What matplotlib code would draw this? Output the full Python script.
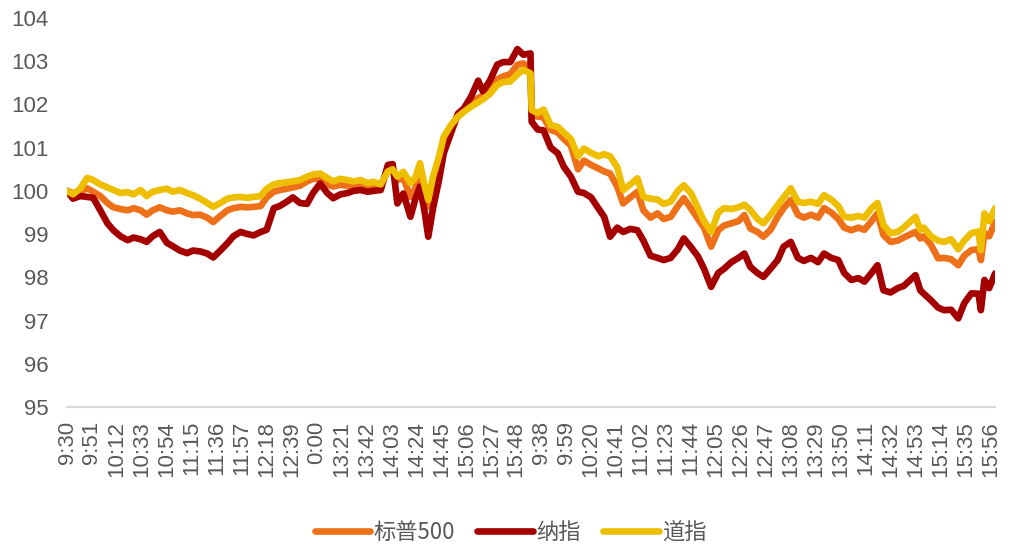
import numpy as np
import matplotlib
matplotlib.use("Agg")
from matplotlib import pyplot as plt

plt.rcParams['font.family'] = ['Noto Sans CJK SC', 'DejaVu Sans']

# minute index along the two trading days (day 1: 0-390, day 2: 391-781)
minute_idx = [
    0, 5, 11, 17, 22, 28, 34, 39, 45, 51, 56, 62, 67, 72, 78, 84, 89, 95, 101, 106,
    112, 118, 123, 129, 135, 140, 146, 152, 157, 163, 168, 174, 179, 185, 190, 196,
    202, 207, 213, 219, 224, 230, 236, 241, 247, 253, 258, 264, 270, 274, 278, 283,
    289, 293, 297, 301, 304, 308, 313, 317, 323, 329, 334, 340, 346, 350, 356, 362,
    367, 373, 379, 384, 390,
    391, 396, 401, 407, 413, 418, 424, 430, 435, 441, 447, 452, 457, 463, 468, 474,
    480, 485, 491, 497, 502, 508, 514, 519, 525, 531, 536, 542, 548, 553, 559, 565,
    570, 575, 581, 586, 592, 598, 603, 609, 615, 620, 626, 632, 637, 643, 649, 654,
    660, 666, 671, 677, 682, 687, 693, 699, 704, 710, 714, 718, 721, 727, 733, 738,
    744, 750, 755, 761, 767, 769, 772, 776, 781,
]

sp500 = [
    100.00, 99.95, 99.98, 100.06, 99.98, 99.88, 99.72, 99.62, 99.58, 99.55, 99.60, 99.55,
    99.45, 99.55, 99.62, 99.55, 99.52, 99.55, 99.48, 99.44, 99.45, 99.38, 99.28, 99.42,
    99.55, 99.60, 99.63, 99.62, 99.63, 99.65, 99.85, 99.98, 100.02, 100.05, 100.08, 100.12,
    100.22, 100.28, 100.28, 100.15, 100.10, 100.14, 100.12, 100.14, 100.12, 100.10, 100.12,
    100.10, 100.50, 100.55, 100.25, 100.30, 99.86, 100.05, 100.40, 99.90, 99.63, 100.20,
    100.70, 101.20, 101.50, 101.72, 101.85, 102.00, 102.15, 102.20, 102.35, 102.58, 102.65,
    102.70, 102.92, 102.95, 102.85,
    101.75, 101.72, 101.70, 101.41, 101.35, 101.20, 101.05, 100.50, 100.70, 100.60, 100.52,
    100.45, 100.40, 100.10, 99.71, 99.85, 99.98, 99.55, 99.38, 99.48, 99.35, 99.40, 99.65,
    99.83, 99.60, 99.35, 99.15, 98.71, 99.09, 99.20, 99.25, 99.30, 99.44, 99.13, 99.05,
    98.94, 99.10, 99.40, 99.60, 99.79, 99.45, 99.38, 99.45, 99.38, 99.60, 99.50, 99.35,
    99.15, 99.09, 99.15, 99.10, 99.30, 99.48, 98.98, 98.82, 98.85, 98.92, 99.00, 99.05,
    98.90, 98.95, 98.75, 98.44, 98.45, 98.42, 98.28, 98.50, 98.63, 98.65, 98.40, 99.02,
    98.95, 99.28,
]

nasdaq = [
    100.00, 99.82, 99.88, 99.86, 99.84, 99.55, 99.25, 99.09, 98.95, 98.86, 98.92, 98.88,
    98.82, 98.95, 99.05, 98.80, 98.72, 98.62, 98.56, 98.62, 98.60, 98.55, 98.46, 98.62,
    98.79, 98.95, 99.05, 99.00, 98.97, 99.05, 99.10, 99.60, 99.65, 99.75, 99.85, 99.72,
    99.70, 99.95, 100.17, 99.95, 99.83, 99.92, 99.95, 100.00, 100.02, 99.98, 100.00,
    100.02, 100.60, 100.62, 99.71, 99.94, 99.40, 99.80, 100.10, 99.50, 98.94, 99.60,
    100.25, 100.87, 101.33, 101.79, 101.91, 102.18, 102.55, 102.30, 102.56, 102.92, 102.98,
    102.98, 103.28, 103.15, 103.18,
    101.60, 101.42, 101.40, 101.00, 100.87, 100.56, 100.33, 99.98, 99.95, 99.85, 99.60,
    99.40, 98.94, 99.15, 99.05, 99.12, 99.09, 98.85, 98.50, 98.45, 98.40, 98.45, 98.65,
    98.90, 98.70, 98.48, 98.20, 97.78, 98.10, 98.20, 98.35, 98.45, 98.55, 98.24, 98.10,
    98.01, 98.20, 98.40, 98.71, 98.82, 98.45, 98.38, 98.45, 98.35, 98.55, 98.45, 98.40,
    98.10, 97.94, 97.98, 97.90, 98.10, 98.28, 97.70, 97.65, 97.75, 97.80, 97.95, 98.05,
    97.70, 97.62, 97.47, 97.30, 97.24, 97.25, 97.05, 97.40, 97.63, 97.62, 97.24, 97.94,
    97.75, 98.09,
]

dow = [
    100.00, 99.92, 100.05, 100.30, 100.25, 100.15, 100.08, 100.02, 99.95, 99.97, 99.92,
    100.02, 99.88, 99.98, 100.02, 100.05, 99.98, 100.02, 99.95, 99.90, 99.82, 99.72, 99.63,
    99.72, 99.82, 99.85, 99.86, 99.84, 99.86, 99.88, 100.05, 100.15, 100.18, 100.20, 100.22,
    100.25, 100.33, 100.38, 100.40, 100.30, 100.22, 100.28, 100.25, 100.22, 100.25, 100.18,
    100.21, 100.15, 100.45, 100.50, 100.33, 100.44, 100.18, 100.30, 100.64, 100.10, 99.79,
    100.33, 100.79, 101.25, 101.52, 101.72, 101.83, 101.95, 102.05, 102.12, 102.25, 102.45,
    102.52, 102.53, 102.70, 102.80, 102.72,
    101.87, 101.80, 101.88, 101.52, 101.48, 101.35, 101.20, 100.80, 100.98, 100.88, 100.80,
    100.85, 100.80, 100.55, 100.02, 100.15, 100.29, 99.86, 99.82, 99.80, 99.70, 99.75,
    100.00, 100.13, 99.95, 99.60, 99.30, 99.05, 99.50, 99.60, 99.58, 99.62, 99.68, 99.56,
    99.35, 99.25, 99.45, 99.67, 99.85, 100.06, 99.75, 99.72, 99.75, 99.70, 99.90, 99.80,
    99.65, 99.40, 99.38, 99.42, 99.38, 99.60, 99.72, 99.21, 99.02, 99.05, 99.15, 99.30,
    99.40, 99.10, 99.15, 98.95, 98.85, 98.82, 98.88, 98.65, 98.85, 99.02, 99.06, 98.63,
    99.48, 99.30, 99.60,
]

tick_labels = [
    '9:30', '9:51', '10:12', '10:33', '10:54', '11:15', '11:36', '11:57', '12:18', '12:39',
    '0:00', '13:21', '13:42', '14:03', '14:24', '14:45', '15:06', '15:27', '15:48',
    '9:38', '9:59', '10:20', '10:41', '11:02', '11:23', '11:44', '12:05', '12:26', '12:47',
    '13:08', '13:29', '13:50', '14:11', '14:32', '14:53', '15:14', '15:35', '15:56',
]

fig = plt.figure(figsize=(10.11, 5.45), dpi=100)
ax = fig.add_axes([0.0663, 0.2532, 0.918, 0.7138])

ax.plot(minute_idx, sp500, color='#EE7019', lw=4.8, label='标普500', solid_capstyle='round')
ax.plot(minute_idx, nasdaq, color='#A50000', lw=4.8, label='纳指', solid_capstyle='round')
ax.plot(minute_idx, dow, color='#EEBF00', lw=4.8, label='道指', solid_capstyle='round')

ax.set_xlim(0, 781)
ax.set_ylim(95, 104)
ax.set_yticks(range(95, 105))
ax.set_xticks(np.arange(len(tick_labels)) * 21)
ax.set_xticklabels(tick_labels, rotation=90, family=['Liberation Sans', 'DejaVu Sans'])
for t in ax.get_yticklabels():
    t.set_family(['Liberation Sans', 'DejaVu Sans'])
ax.tick_params(axis='both', length=0, labelsize=16, colors='#595959')
ax.tick_params(axis='x', pad=10)
ax.tick_params(axis='y', pad=13)

for s in ['top', 'right', 'left']:
    ax.spines[s].set_visible(False)
ax.spines['bottom'].set_color('#D9D9D9')
ax.spines['bottom'].set_linewidth(1.5)

leg = fig.legend(loc='lower center', bbox_to_anchor=(0.505, -0.035), ncol=3, frameon=False,
                 fontsize=16, handlelength=2.5, handletextpad=0.15, columnspacing=1.0)
for t in leg.get_texts():
    t.set_color('#595959')

fig.savefig('out.png', dpi=100)
